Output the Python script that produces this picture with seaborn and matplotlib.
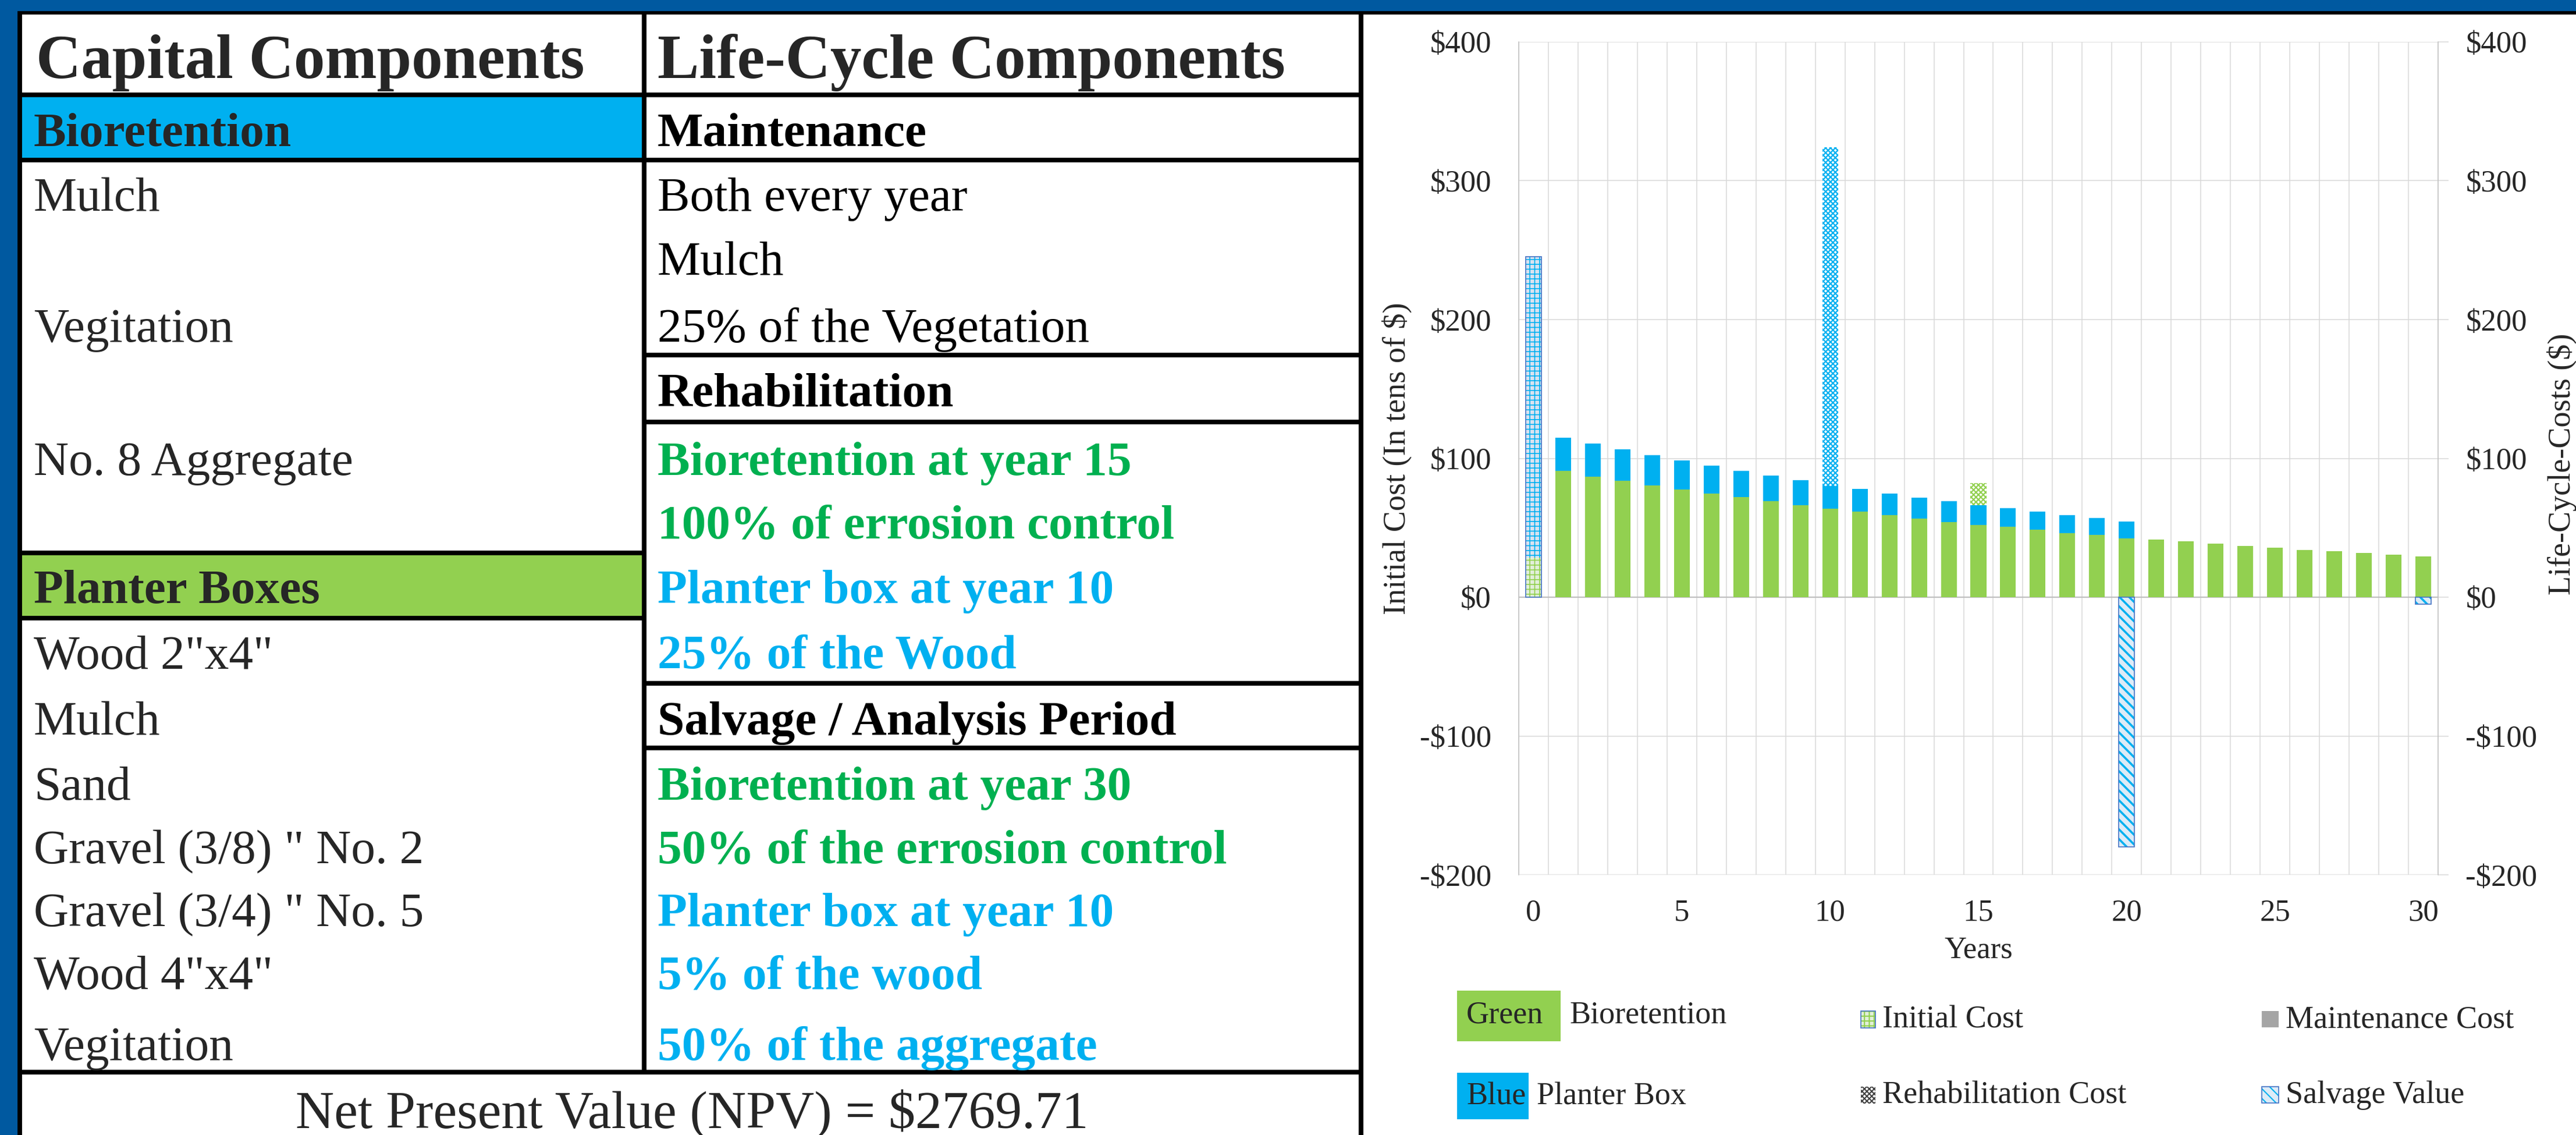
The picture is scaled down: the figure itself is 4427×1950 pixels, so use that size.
import numpy as np
import pandas as pd
import seaborn as sns
import matplotlib.pyplot as plt
from matplotlib.patches import Rectangle

W, H = 4427, 1950

# ---- chart data ($) ----
years = list(range(31))
bio_maint = [90.8, 87.0, 83.7, 80.4, 77.4, 74.8, 72.0, 69.0, 66.2, 63.6,
             61.6, 59.0, 56.5, 53.9, 52.2, 50.6, 48.6, 46.3, 44.8, 42.5,
             41.7, 40.2, 38.5, 36.7, 35.5, 33.8, 33.0, 31.8, 30.5, 29.2]   # years 1-30
planter_maint = [24.0, 23.7, 22.7, 21.9, 21.1, 19.9, 18.8, 18.5, 18.0, 16.3,
                 16.3, 15.6, 15.0, 15.1, 14.0, 13.5, 13.0, 12.7, 12.2, 12.0]  # years 1-20
init_bio = 28.5
init_planter = 216.8
rehab_years = [10, 15]
rehab_values = [244.0, 16.0]
salvage_years = [20, 30]
salvage_values = [-180.0, -5.0]

yticks = [-200, -100, 0, 100, 200, 300, 400]
ytick_labels = ["-$200", "-$100", "$0", "$100", "$200", "$300", "$400"]
xticks = [0, 5, 10, 15, 20, 25, 30]

# ---- table text ----
capital_bio = ["Mulch", "Vegitation", "No. 8 Aggregate"]
capital_bio_y = [362, 587, 816]
capital_planter = ['Wood 2"x4"', "Mulch", "Sand", 'Gravel (3/8) " No. 2',
                   'Gravel (3/4) " No. 5', 'Wood 4"x4"', "Vegitation"]
capital_planter_y = [1148, 1262, 1374, 1483, 1591, 1699, 1821]
life_rows = [("Maintenance", "k", 251, True),
             ("Both every year", "k", 362, False),
             ("Mulch", "k", 472, False),
             ("25% of the Vegetation", "k", 587, False),
             ("Rehabilitation", "k", 698, True),
             ("Bioretention at year 15", "g", 816, True),
             ("100% of errosion control", "g", 925, True),
             ("Planter box at year 10", "b", 1036, True),
             ("25% of the Wood", "b", 1148, True),
             ("Salvage / Analysis Period", "k", 1262, True),
             ("Bioretention at year 30", "g", 1374, True),
             ("50% of the errosion control", "g", 1483, True),
             ("Planter box at year 10", "b", 1591, True),
             ("5% of the wood", "b", 1699, True),
             ("50% of the aggregate", "b", 1821, True)]
npv_text = "Net Present Value (NPV) = $2769.71"

GREEN, BLUE = "#92D050", "#00B0F0"
TXT = {"k": "black", "g": "#00B050", "b": "#00B0F0"}

sns.set_theme(style="white")
plt.rcParams["font.family"] = ["Liberation Serif", "DejaVu Serif"]
plt.rcParams["text.parse_math"] = False
plt.rcParams["hatch.linewidth"] = 1.5

fig = plt.figure(figsize=(W / 100, H / 100), dpi=100)


def frect(x0, y0, x1, y1, **kw):
    fig.add_artist(Rectangle((x0 / W, 1 - y1 / H), (x1 - x0) / W, (y1 - y0) / H,
                             transform=fig.transFigure, **kw))


def ftext(x, y, s, **kw):
    fig.text(x / W, 1 - y / H, s, **kw)


# ---- frame and table ----
frect(0, 0, W, 19, color="#0059A0", lw=0)
frect(0, 19, W, 25, color="black", lw=0)
frect(0, 19, 30, H, color="#0059A0", lw=0)
frect(30, 19, 38, H, color="black", lw=0)
frect(38, 167, 1103, 271, color=BLUE, lw=0)
frect(38, 954, 1103, 1058, color=GREEN, lw=0)

for y0, y1, x0, x1 in [(159, 167, 30, 2343), (271, 279, 30, 2343), (1838, 1846, 30, 2343),
                       (606, 614, 1103, 2343), (721, 729, 1103, 2343),
                       (1170, 1178, 1103, 2343), (1281, 1289, 1103, 2343),
                       (946, 954, 30, 1111), (1058, 1066, 30, 1111)]:
    frect(x0, y0, x1, y1, color="black", lw=0)
frect(1103, 24, 1111, 1846, color="black", lw=0)
frect(2335, 24, 2343, H, color="black", lw=0)

ftext(62, 134, "Capital Components", fontsize=77, fontweight="bold", va="baseline")
ftext(1130, 134, "Life-Cycle Components", fontsize=77, fontweight="bold", va="baseline")
ftext(58, 251, "Bioretention", fontsize=60, fontweight="bold", va="baseline")
ftext(58, 1036, "Planter Boxes", fontsize=60, fontweight="bold", va="baseline")
for s, y in zip(capital_bio, capital_bio_y):
    ftext(58, y, s, fontsize=60, va="baseline")
for s, y in zip(capital_planter, capital_planter_y):
    ftext(58, y, s, fontsize=60, va="baseline")
for s, c, y, b in life_rows:
    ftext(1130, y, s, fontsize=60, va="baseline", color=TXT[c],
          fontweight="bold" if b else "normal")
ftext(1189, 1938, npv_text, fontsize=66, va="baseline", ha="center")

# ---- bar chart ----
df = pd.DataFrame({"year": years})
df["bio"] = [init_bio] + bio_maint
df["planter"] = [init_planter] + planter_maint + [0.0] * (30 - len(planter_maint))
df["rehab"] = 0.0
for y, v in zip(rehab_years, rehab_values):
    df.loc[df.year == y, "rehab"] = v
df["g_top"] = df.bio
df["b_top"] = df.bio + df.planter
df["r_top"] = df.b_top + df.rehab
sal = pd.DataFrame({"year": salvage_years, "value": salvage_values})

ax = fig.add_axes([2610 / W, 1 - 1503 / H, 1580 / W, (1503 - 72) / H])
bw = 0.53


def bars(data, col, hatch_lw=None, **kw):
    n0 = len(ax.patches)
    with plt.rc_context({"hatch.linewidth": hatch_lw or 1.5}):
        sns.barplot(data=data, x="year", y=col, order=years, width=bw, errorbar=None,
                    saturation=1, ax=ax, **kw)
    if hatch_lw:
        for p in ax.patches[n0:]:
            if hasattr(p, "set_hatch_linewidth"):
                p.set_hatch_linewidth(hatch_lw)


bars(df[df.year == rehab_years[0]], "r_top", color="white", edgecolor=BLUE, hatch="xxxx",
     linewidth=0, hatch_lw=1.6)
bars(df[df.year == rehab_years[1]], "r_top", color="white", edgecolor=GREEN, hatch="xxxx",
     linewidth=0, hatch_lw=1.6)
bars(df[(df.year >= 1) & (df.planter > 0)], "b_top", color=BLUE, linewidth=0)
bars(df[df.year == 0], "b_top", color="#D9E2F0", edgecolor=BLUE, hatch="++", linewidth=0,
     hatch_lw=1.2)
bars(df[df.year >= 1], "g_top", color=GREEN, linewidth=0)
bars(df[df.year == 0], "g_top", color="#E2EFDA", edgecolor=GREEN, hatch="++", linewidth=0,
     hatch_lw=1.2)
bars(df[df.year == 0], "b_top", fill=False, color="#4472C4", linewidth=1.2)
bars(sal, "value", color="#DDEBF7", edgecolor=BLUE, hatch="\\\\", linewidth=0, hatch_lw=2.6)
bars(sal, "value", fill=False, color="#4472C4", linewidth=1.2)

ax.axhline(0, color="#BFBFBF", lw=1.6, zorder=0.9)
ax.set_xlim(-0.5, 30.5)
ax.set_ylim(-200, 400)
ax.set_xticks(xticks)
ax.set_xticklabels([str(t) for t in xticks])
ax.set_xticks(np.arange(-0.5, 31, 1), minor=True)
ax.set_yticks(yticks)
ax.set_yticklabels(ytick_labels)
ax.set_axisbelow(True)
ax.grid(False)
ax.grid(True, which="minor", axis="x", color="#D9D9D9", lw=1.1)
ax.grid(True, which="major", axis="y", color="#D9D9D9", lw=1.1)
ax.set_xlabel("")
ax.set_ylabel("")
ax.tick_params(axis="x", which="both", length=0, pad=30, labelsize=38)
ax.tick_params(axis="y", length=0, pad=34, labelsize=38)
for sp in ["top", "bottom", "right"]:
    ax.spines[sp].set_visible(False)
ax.spines["left"].set_color("#BFBFBF")
ax.spines["left"].set_linewidth(1.1)

ax2 = ax.twinx()
ax2.set_ylim(-200, 400)
ax2.set_yticks(yticks)
ax2.set_yticklabels(ytick_labels)
ax2.grid(False)
ax2.tick_params(axis="y", direction="out", length=13, width=1.1, color="#D9D9D9",
                pad=21, labelsize=38)
for sp in ["top", "bottom", "left"]:
    ax2.spines[sp].set_visible(False)
ax2.spines["right"].set_color("#BFBFBF")
ax2.spines["right"].set_linewidth(1.1)

ftext(2400, 788, "Initial Cost (In tens of $)", fontsize=39, rotation=90, ha="center", va="center")
ftext(4403, 797, "Life-Cycle-Costs ($)", fontsize=39, rotation=90, ha="center", va="center")
ftext(3400, 1633, "Years", fontsize=38, ha="center", va="center")

# ---- legend ----
frect(2504, 1702, 2682, 1789, color=GREEN, lw=0)
frect(2504, 1843, 2627, 1923, color=BLUE, lw=0)
ftext(2520, 1758, "Green", fontsize=39, va="baseline")
ftext(2697, 1758, "Bioretention", fontsize=39, va="baseline")
ftext(2520, 1897, "Blue", fontsize=39, va="baseline")
ftext(2641, 1897, "Planter Box", fontsize=39, va="baseline")

frect(3198, 1737, 3223, 1766, facecolor="#E2EFDA", edgecolor=GREEN, hatch="++", lw=0)
frect(3198, 1737, 3223, 1766, fill=False, edgecolor="#4472C4", lw=1.2)
frect(3887, 1737, 3916, 1765, color="#A5A5A5", lw=0)
frect(3198, 1867, 3223, 1896, facecolor="white", edgecolor="#404040", hatch="xxxx", lw=0)
frect(3887, 1867, 3916, 1895, facecolor="#DDEBF7", edgecolor=BLUE, hatch="\\\\", lw=0)
frect(3887, 1867, 3916, 1895, fill=False, edgecolor="#4472C4", lw=1.2)
ftext(3235, 1766, "Initial Cost", fontsize=39, va="baseline")
ftext(3928, 1766, "Maintenance Cost", fontsize=39, va="baseline")
ftext(3235, 1896, "Rehabilitation Cost", fontsize=39, va="baseline")
ftext(3928, 1895, "Salvage Value", fontsize=39, va="baseline")

fig.savefig("out.png", dpi=100, facecolor="white")
